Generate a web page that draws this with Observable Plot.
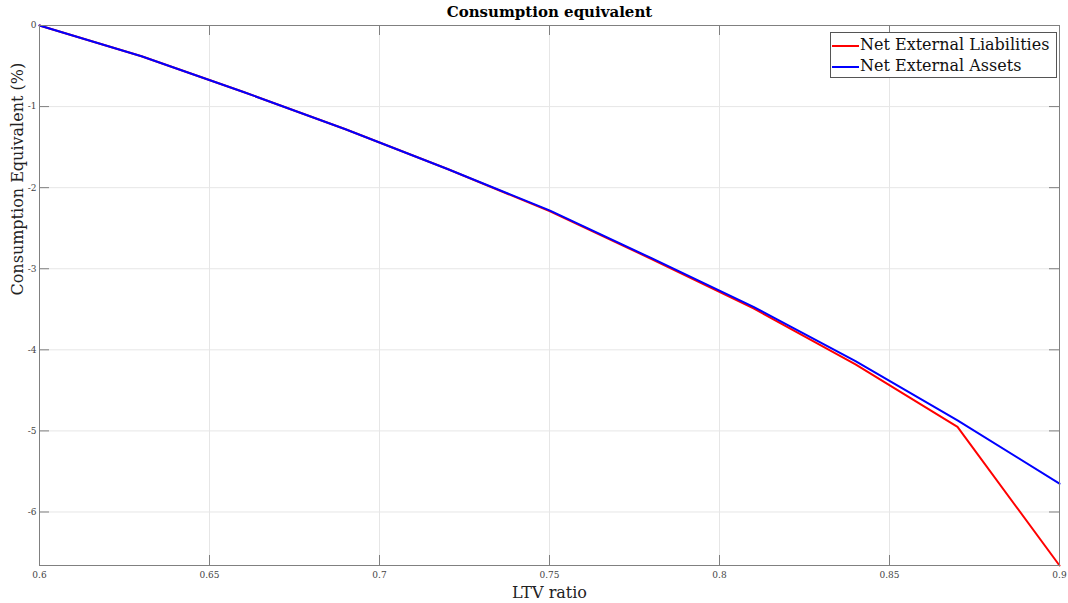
<!DOCTYPE html>
<html>
<head>
<meta charset="utf-8">
<script src="https://cdn.jsdelivr.net/npm/d3@7"></script>
<script src="https://cdn.jsdelivr.net/npm/@observablehq/plot@0.6"></script>
<style>
  body { margin: 0; background: #fff; }
  #wrap { position: relative; width: 1068px; height: 603px; font-family: "DejaVu Serif", serif; }
  #legend { position: absolute; left: 830px; top: 32px; width: 227px; height: 46px; border: 1px solid #555; background: #fff; box-sizing: border-box; font-size: 16px; color: #111; }
  .row { position: absolute; left: 1px; height: 22px; line-height: 22px; white-space: nowrap; }
  .sw { display: inline-block; width: 27px; height: 0; border-top: 2px solid; vertical-align: middle; margin-right: 1px; }
</style>
</head>
<body>
<div id="wrap"></div>
<script>
const ltv = [0.6, 0.63, 0.66, 0.69, 0.72, 0.75, 0.78, 0.81, 0.84, 0.87, 0.9];
const liabilities = [0, -0.38, -0.82, -1.28, -1.77, -2.29, -2.88, -3.49, -4.18, -4.95, -6.66];
const assets = [0, -0.38, -0.82, -1.28, -1.77, -2.28, -2.87, -3.47, -4.14, -4.87, -5.65];
const seriesNames = ["Net External Liabilities", "Net External Assets"];
const seriesColors = ["#ff0000", "#0000ff"];
const xTicks = [0.6, 0.65, 0.7, 0.75, 0.8, 0.85, 0.9];
const yTicks = [0, -1, -2, -3, -4, -5, -6];

const W = 1068, H = 603, mT = 25, mB = 38, mL = 39, mR = 9;
const innerH = H - mT - mB, innerW = W - mL - mR;

const data = [];
ltv.forEach((x, i) => {
  data.push({x, y: liabilities[i], s: seriesNames[0]});
});
ltv.forEach((x, i) => {
  data.push({x, y: assets[i], s: seriesNames[1]});
});

const chart = Plot.plot({
  width: W, height: H,
  marginTop: mT, marginBottom: mB, marginLeft: mL, marginRight: mR,
  style: {fontFamily: "'DejaVu Serif', serif", background: "#fff"},
  x: {domain: [0.6, 0.9]},
  y: {domain: [-6.66, 0]},
  color: {domain: seriesNames, range: seriesColors},
  marks: [
    Plot.gridX(xTicks, {stroke: "#e6e6e6", strokeOpacity: 1}),
    Plot.gridY(yTicks, {stroke: "#e6e6e6", strokeOpacity: 1}),
    Plot.tickX(xTicks, {x: d => d, insetTop: innerH - 10, stroke: "#808080"}),
    Plot.tickX(xTicks, {x: d => d, insetBottom: innerH - 10, stroke: "#808080"}),
    Plot.tickY(yTicks, {y: d => d, insetRight: innerW - 10, stroke: "#808080"}),
    Plot.tickY(yTicks, {y: d => d, insetLeft: innerW - 10, stroke: "#808080"}),
    Plot.axisX(xTicks, {tickSize: 0, tickPadding: 6, fontSize: 9, fill: "#444", label: null, tickFormat: d => String(d)}),
    Plot.axisY(yTicks, {tickSize: 0, tickPadding: 3, fontSize: 9, fill: "#444", label: null, tickFormat: d => String(d)}),
    Plot.line(data, {x: "x", y: "y", z: "s", stroke: "s", strokeWidth: 2}),
    Plot.frame({stroke: "#808080"}),
    Plot.text(["Consumption equivalent"], {text: d => d, frameAnchor: "top", lineAnchor: "middle", dy: -13, fontSize: 15, fontWeight: "bold", fill: "#000"}),
    Plot.text(["LTV ratio"], {text: d => d, frameAnchor: "bottom", lineAnchor: "middle", dy: 27, fontSize: 16, fill: "#222"}),
    Plot.text(["Consumption Equivalent (%)"], {text: d => d, frameAnchor: "left", dx: -22, rotate: -90, fontSize: 16, fill: "#222"})
  ]
});
const wrap = document.getElementById("wrap");
wrap.appendChild(chart);

const legend = document.createElement("div");
legend.id = "legend";
seriesNames.forEach((n, i) => {
  const r = document.createElement("div");
  r.className = "row";
  r.style.top = (1 + i * 21) + "px";
  r.innerHTML = `<span class="sw" style="border-color:${seriesColors[i]}"></span>${n}`;
  legend.appendChild(r);
});
wrap.appendChild(legend);
</script>
</body>
</html>
